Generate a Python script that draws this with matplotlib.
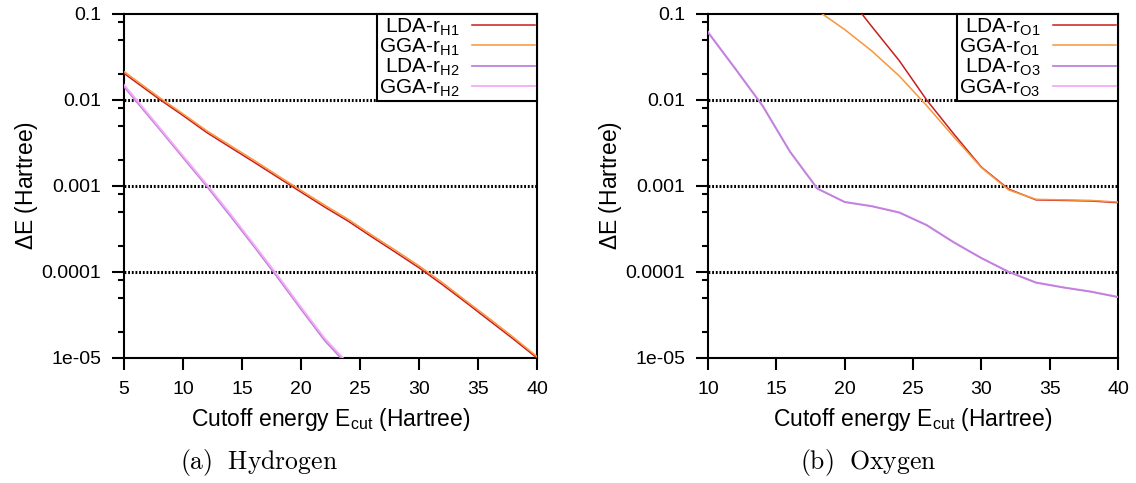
import matplotlib
matplotlib.use('Agg')
import matplotlib.pyplot as plt
from matplotlib.ticker import FixedLocator, NullFormatter

plt.rcParams['font.family'] = ['Liberation Sans', 'DejaVu Sans']
plt.rcParams['mathtext.fontset'] = 'custom'
plt.rcParams['mathtext.rm'] = 'Liberation Sans'
plt.rcParams['mathtext.it'] = 'Liberation Sans:italic'
plt.rcParams['mathtext.bf'] = 'Liberation Sans:bold'

# hydrogen
x_h1 = [5, 6, 8, 10, 12, 14, 16, 18, 20, 22, 24, 26, 28, 30, 32, 34, 36, 38, 40]
lda_h1 = [0.0204, 0.0162, 0.0102, 0.0066, 0.0042, 0.00282, 0.0019, 0.00127, 8.5e-4, 5.7e-4,
          3.9e-4, 2.56e-4, 1.7e-4, 1.12e-4, 7.1e-5, 4.4e-5, 2.7e-5, 1.66e-5, 1.0e-5]
gga_h1 = [0.0214, 0.0170, 0.0107, 0.0069, 0.0044, 0.00296, 0.0020, 0.00133, 8.9e-4, 6.0e-4,
          4.1e-4, 2.69e-4, 1.79e-4, 1.18e-4, 7.5e-5, 4.6e-5, 2.85e-5, 1.74e-5, 1.04e-5]
x_h2 = [5, 6, 8, 10, 12, 14, 16, 18, 20, 22, 24]
lda_h2 = [0.0143, 0.0098, 0.0046, 0.00214, 0.00100, 4.5e-4, 2.0e-4, 8.7e-5, 3.7e-5, 1.6e-5, 8.1e-6]
gga_h2 = [0.0150, 0.0103, 0.0048, 0.00224, 0.00105, 4.75e-4, 2.1e-4, 9.2e-5, 3.9e-5, 1.7e-5, 8.6e-6]

# oxygen
x_o1 = [18, 20, 22, 24, 26, 28, 30, 32, 34, 36, 38, 40]
lda_o1 = [0.35, 0.18, 0.071, 0.0286, 0.0100, 0.0040, 0.00166, 9.2e-4, 6.9e-4, 6.8e-4, 6.7e-4, 6.4e-4]
gga_o1 = [0.11, 0.066, 0.037, 0.019, 0.0086, 0.0037, 0.00164, 9.0e-4, 7.0e-4, 6.9e-4, 6.8e-4, 6.5e-4]
x_o3 = [10, 12, 14, 16, 18, 20, 22, 24, 26, 28, 30, 32, 34, 36, 38, 40]
lda_o3 = [0.061, 0.023, 0.0085, 0.0025, 9.3e-4, 6.5e-4, 5.8e-4, 4.9e-4, 3.5e-4, 2.2e-4,
          1.45e-4, 1.0e-4, 7.5e-5, 6.6e-5, 5.9e-5, 5.1e-5]
gga_o3 = [0.062, 0.0233, 0.0086, 0.00252, 9.4e-4, 6.55e-4, 5.85e-4, 4.95e-4, 3.53e-4, 2.22e-4,
          1.46e-4, 1.01e-4, 7.6e-5, 6.65e-5, 5.95e-5, 5.15e-5]

y_ticks = [1e-5, 1e-4, 1e-3, 1e-2, 1e-1]
y_ticklabels = ['1e-05', '0.0001', '0.001', '0.01', '0.1']

c_red = '#c81e1e'
c_orange = '#f7963c'
c_purple = '#be82dc'
c_pink = '#f5aaf5'

fig = plt.figure(figsize=(11.36, 4.83), dpi=100)
ax1 = fig.add_axes([124 / 1136, 1 - 358 / 483, 413 / 1136, 344 / 483])
ax2 = fig.add_axes([708 / 1136, 1 - 358 / 483, 410 / 1136, 344 / 483])


def style_axis(ax, xlim, xticks):
    ax.set_yscale('log')
    ax.set_ylim(1e-5, 0.1)
    ax.set_xlim(*xlim)
    ax.set_xticks(xticks)
    ax.set_yticks(y_ticks)
    ax.set_yticklabels(y_ticklabels)
    minors = [m * d for d in [1e-5, 1e-4, 1e-3, 1e-2] for m in (2, 5, 8)]
    ax.yaxis.set_minor_locator(FixedLocator(minors))
    ax.yaxis.set_minor_formatter(NullFormatter())
    ax.tick_params(which='major', direction='out', length=8.5, width=1.5, labelsize=14, pad=8,
                   top=False, right=False)
    ax.tick_params(which='minor', direction='out', length=4.3, width=1.5, top=False, right=False)
    ax.tick_params(axis='x', which='minor', bottom=False)
    for s in ax.spines.values():
        s.set_linewidth(1.5)
    for yv in [1e-2, 1e-3, 1e-4]:
        ax.axhline(yv, color='black', linestyle=(0, (0.6, 0.6)), linewidth=2.2, zorder=1)
    ax.set_xlabel(r'Cutoff energy E$_{\mathrm{cut}}$ (Hartree)', fontsize=16.5, labelpad=6)
    ax.set_ylabel(r'$\Delta$E (Hartree)', fontsize=16.5, labelpad=1)


def add_legend(ax):
    leg = ax.legend(loc='upper right', fontsize=15, markerfirst=False, frameon=True,
                    fancybox=False, framealpha=1, edgecolor='black', borderaxespad=0,
                    handlelength=3.0, handletextpad=0.6, labelspacing=-0.05,
                    borderpad=0.12)
    leg.get_frame().set_linewidth(1.5)
    leg._legend_handle_box.get_children()[0].align = 'right'


style_axis(ax1, (5, 40), [5, 10, 15, 20, 25, 30, 35, 40])
ax1.plot(x_h1, lda_h1, color=c_red, lw=1.1, label=r'LDA-r$_{\mathrm{H1}}$', zorder=3)
ax1.plot(x_h1, gga_h1, color=c_orange, lw=1.1, label=r'GGA-r$_{\mathrm{H1}}$', zorder=3)
ax1.plot(x_h2, lda_h2, color=c_purple, lw=1.3, label=r'LDA-r$_{\mathrm{H2}}$', zorder=3)
ax1.plot(x_h2, gga_h2, color=c_pink, lw=1.3, label=r'GGA-r$_{\mathrm{H2}}$', zorder=3)
add_legend(ax1)

style_axis(ax2, (10, 40), [10, 15, 20, 25, 30, 35, 40])
ax2.plot(x_o1, lda_o1, color=c_red, lw=1.1, label=r'LDA-r$_{\mathrm{O1}}$', zorder=3)
ax2.plot(x_o1, gga_o1, color=c_orange, lw=1.1, label=r'GGA-r$_{\mathrm{O1}}$', zorder=3)
ax2.plot(x_o3, lda_o3, color=c_purple, lw=1.3, label=r'LDA-r$_{\mathrm{O3}}$', zorder=4)
ax2.plot(x_o3, gga_o3, color=c_pink, lw=1.3, label=r'GGA-r$_{\mathrm{O3}}$', zorder=3)
add_legend(ax2)

fig.text(259 / 1136, 1 - 463 / 483, r'$\mathrm{(a)\ \ Hydrogen}$', fontsize=18.5,
         ha='center', va='center', math_fontfamily='cm')
fig.text(868 / 1136, 1 - 463 / 483, r'$\mathrm{(b)\ \ Oxygen}$', fontsize=18.5,
         ha='center', va='center', math_fontfamily='cm')

fig.savefig('out.png', dpi=100)
